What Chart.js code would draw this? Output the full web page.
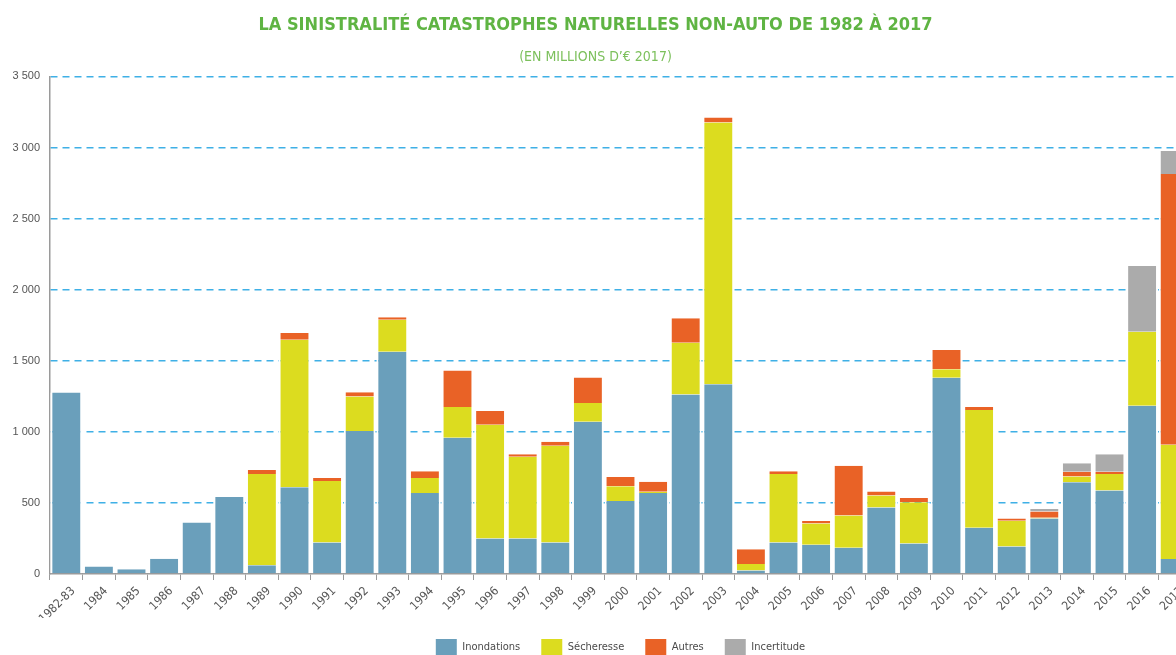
<!DOCTYPE html>
<html lang="fr">
<head>
<meta charset="utf-8">
<script src="https://cdn.jsdelivr.net/npm/chart.js@4/dist/chart.umd.min.js"></script>
<style>
  html, body { margin: 0; padding: 0; background: #ffffff; overflow: hidden; }
  #wrap { position: relative; width: 1200px; height: 666px; }
</style>
</head>
<body>
<div id="wrap"><canvas id="c"></canvas></div>
<script>
const categories = ['1982-83','1984','1985','1986','1987','1988','1989','1990','1991','1992','1993','1994','1995','1996','1997','1998','1999','2000','2001','2002','2003','2004','2005','2006','2007','2008','2009','2010','2011','2012','2013','2014','2015','2016','2017'];

const inondations = [1276, 52, 33, 108, 362, 542, 61, 610, 221, 1005, 1563, 570, 958, 249, 249, 221, 1071, 513, 570, 1262, 1335, 24, 221, 205, 184, 468, 214, 1380, 325, 193, 391, 645, 588, 1184, 106];
const secheresse  = [0, 0, 0, 0, 0, 0, 643, 1038, 434, 243, 226, 106, 217, 801, 575, 681, 132, 104, 9, 365, 1841, 47, 483, 150, 228, 85, 290, 61, 828, 181, 5, 40, 116, 520, 803];
const autres      = [0, 0, 0, 0, 0, 0, 28, 47, 21, 30, 17, 47, 257, 96, 19, 28, 179, 66, 69, 172, 35, 103, 19, 17, 349, 28, 31, 134, 22, 17, 44, 35, 16, 0, 1904];
const incertitude = [0, 0, 0, 0, 0, 0, 0, 0, 0, 0, 0, 0, 0, 0, 0, 0, 0, 0, 0, 0, 0, 0, 0, 0, 0, 0, 0, 0, 0, 0, 17, 59, 123, 462, 163];

const seriesNames = ['Inondations', 'Sécheresse', 'Autres', 'Incertitude'];
const seriesColors = ['#6a9fbb', '#dcdc1f', '#e96226', '#ababab'];

const titleText = 'LA SINISTRALITÉ CATASTROPHES NATURELLES NON-AUTO DE 1982 À 2017';
const subtitleText = '(EN MILLIONS D’€ 2017)';

const yMax = 3500;
const yStep = 500;

const narrow = '"DejaVu Sans Condensed", "Liberation Sans Narrow", "Liberation Sans", sans-serif';
const regular = '"Liberation Sans", Arial, sans-serif';

const seriesData = [inondations, secheresse, autres, incertitude];

new Chart(document.getElementById('c'), {
  type: 'bar',
  data: {
    labels: categories,
    datasets: seriesData.map((d, i) => ({
      label: seriesNames[i],
      data: d,
      backgroundColor: seriesColors[i],
      borderColor: '#ffffff',
      borderWidth: { left: 2, right: 2, top: 0, bottom: 0 },
      borderSkipped: false,
      barPercentage: 0.978,
      categoryPercentage: 1.0
    }))
  },
  options: {
    responsive: true,
    maintainAspectRatio: false,
    animation: false,
    devicePixelRatio: 1,
    layout: { padding: { left: 0, right: 9, top: 0, bottom: 0 } },
    plugins: {
      title: {
        display: true,
        text: titleText,
        color: '#5fb443',
        font: { family: narrow, size: 18, weight: 'bold' },
        padding: { top: 15, bottom: 0 }
      },
      subtitle: {
        display: true,
        text: subtitleText,
        color: '#7cc05c',
        font: { family: narrow, size: 14 },
        padding: { top: 12, bottom: 11 }
      },
      legend: {
        position: 'bottom',
        fullSize: false,
        labels: {
          boxWidth: 21,
          boxHeight: 17,
          padding: 21,
          color: '#4a4a4a',
          font: { family: narrow, size: 11 },
          generateLabels: (chart) => chart.data.datasets.map((ds, i) => ({
            text: ds.label,
            fillStyle: ds.backgroundColor,
            strokeStyle: ds.backgroundColor,
            lineWidth: 0,
            fontColor: '#4a4a4a',
            hidden: false,
            datasetIndex: i
          }))
        }
      },
      tooltip: { enabled: false }
    },
    scales: {
      x: {
        stacked: true,
        grid: { display: true, drawOnChartArea: false, drawTicks: true, tickLength: 6, color: '#9a9a9a' },
        border: { display: true, color: '#9a9a9a', width: 1.5 },
        ticks: {
          color: '#555555',
          font: { family: narrow, size: 12 },
          minRotation: 45,
          maxRotation: 45,
          autoSkip: false,
          padding: 4,
          labelOffset: 7
        },
        afterFit: (s) => { s.height = 44; }
      },
      y: {
        stacked: true,
        min: 0,
        max: yMax,
        grid: {
          color: (ctx) => ctx.tick && ctx.tick.value === 0 ? 'rgba(0,0,0,0)' : '#3fb0e6',
          lineWidth: 1.5,
          drawTicks: false
        },
        border: { display: true, color: '#9a9a9a', width: 1.5, dash: [7, 5] },
        ticks: {
          stepSize: yStep,
          color: '#555555',
          padding: 10,
          font: { family: regular, size: 11 },
          callback: (v) => String(v).replace(/\B(?=(\d{3})+(?!\d))/g, ' ')
        },
        afterFit: (s) => { s.width = 50; }
      }
    }
  }
});
</script>
</body>
</html>
